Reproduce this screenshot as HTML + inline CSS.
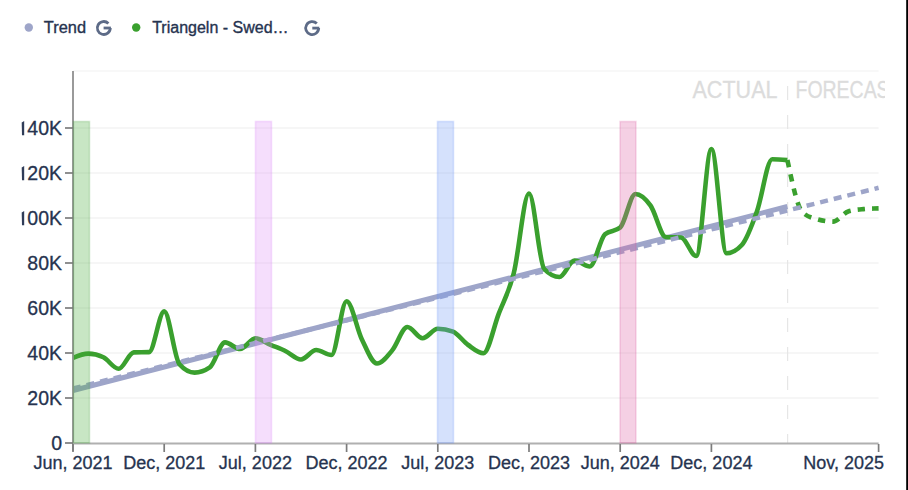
<!DOCTYPE html>
<html><head><meta charset="utf-8"><style>
html,body{margin:0;padding:0;background:#fff;width:908px;height:490px;overflow:hidden}
svg{display:block;font-family:"Liberation Sans",sans-serif}
</style></head><body>
<svg width="908" height="490" viewBox="0 0 908 490">
<rect x="0" y="0" width="908" height="490" fill="#fff"/>
<!-- legend -->
<circle cx="28.8" cy="27.5" r="4.2" fill="#9ea5c9"/>
<text x="43.8" y="33" font-size="16.4" fill="#26334f" stroke="#26334f" stroke-width="0.35">Trend</text>
<circle cx="136.2" cy="27.5" r="4.2" fill="#3aa02e"/>
<text x="152.2" y="33" font-size="16" fill="#26334f" stroke="#26334f" stroke-width="0.35">Triangeln - Swed…</text>
<g fill="none" stroke="#5d6b87" stroke-width="2.8">
<path d="M108.4,23.4 A6.5,6.5 0 1 0 110.3,28"/>
<path d="M312.3,28.1 H319.3"/>
<path d="M103.6,28 H110.9"/>
<path d="M316.8,23.5 A6.5,6.5 0 1 0 318.7,28.1"/>
</g>
<!-- plot area -->
<line x1="73" y1="71" x2="878.6" y2="71" stroke="#f6f6f6" stroke-width="1.4"/>
<g stroke="#f3f3f3" stroke-width="1.4"><line x1="73" y1="398.0" x2="878.6" y2="398.0"/><line x1="73" y1="353.0" x2="878.6" y2="353.0"/><line x1="73" y1="308.0" x2="878.6" y2="308.0"/><line x1="73" y1="263.0" x2="878.6" y2="263.0"/><line x1="73" y1="218.0" x2="878.6" y2="218.0"/><line x1="73" y1="173.0" x2="878.6" y2="173.0"/><line x1="73" y1="128.0" x2="878.6" y2="128.0"/></g>
<!-- actual/forecast -->
<text x="692.5" y="97.8" font-size="23" fill="#dcdcdc" stroke="#dcdcdc" stroke-width="0.3" textLength="85" lengthAdjust="spacingAndGlyphs">ACTUAL</text>
<line x1="787.6" y1="86" x2="787.6" y2="443" stroke="#e6e6e6" stroke-width="1.2" stroke-dasharray="14,15"/>
<svg x="0" y="0" width="885" height="490" overflow="hidden"><text x="795.5" y="97.8" font-size="23" fill="#dcdcdc" stroke="#dcdcdc" stroke-width="0.3" textLength="106" lengthAdjust="spacingAndGlyphs">FORECAST</text></svg>
<!-- trend -->
<line x1="73" y1="390.5" x2="787.4" y2="206.5" stroke="#9ea5c9" stroke-width="5"/>
<!-- green -->
<path d="M73.00,357.80C78.07,355.70 83.13,353.60 88.20,353.60C93.27,353.60 98.33,354.83 103.40,357.30C108.47,359.77 113.53,368.80 118.60,368.80C123.67,368.80 128.73,352.60 133.80,352.40C138.87,352.20 143.93,352.30 149.00,352.10C154.07,351.90 159.13,311.40 164.20,311.40C169.27,311.40 174.33,358.60 179.40,364.20C184.47,369.80 189.53,372.60 194.60,372.60C199.67,372.60 204.73,370.87 209.80,367.40C214.87,363.93 219.93,342.40 225.00,342.40C230.07,342.40 235.13,349.00 240.20,349.00C245.27,349.00 250.33,338.30 255.40,338.30C260.47,338.30 265.53,342.65 270.60,344.80C275.67,346.95 280.73,348.75 285.80,351.20C290.87,353.65 295.93,359.50 301.00,359.50C306.07,359.50 311.13,350.00 316.20,350.00C321.27,350.00 326.33,355.00 331.40,355.00C336.47,355.00 341.53,301.20 346.60,301.20C351.67,301.20 356.73,328.82 361.80,339.20C366.87,349.58 371.93,363.50 377.00,363.50C382.07,363.50 387.13,356.48 392.20,350.40C397.27,344.32 402.33,327.00 407.40,327.00C412.47,327.00 417.53,338.20 422.60,338.20C427.67,338.20 432.73,328.70 437.80,328.70C442.87,328.70 447.93,329.70 453.00,331.70C458.07,333.70 463.13,341.42 468.20,345.00C473.27,348.58 478.33,353.20 483.40,353.20C488.47,353.20 493.53,327.47 498.60,314.10C503.67,300.73 508.73,293.10 513.80,273.00C518.87,252.90 523.93,193.50 529.00,193.50C534.07,193.50 539.13,263.67 544.20,269.00C549.27,274.33 554.33,277.00 559.40,277.00C564.47,277.00 569.53,260.50 574.60,260.50C579.67,260.50 584.73,266.50 589.80,266.50C594.87,266.50 599.93,238.60 605.00,234.20C610.07,229.80 615.13,232.00 620.20,227.60C625.27,223.20 630.33,194.00 635.40,194.00C640.47,194.00 645.53,198.53 650.60,205.70C655.67,212.87 660.73,236.67 665.80,237.00C670.87,237.33 675.93,237.17 681.00,237.50C686.07,237.83 691.13,256.00 696.20,256.00C701.27,256.00 706.33,149.00 711.40,149.00C716.47,149.00 721.53,253.30 726.60,253.30C731.67,253.30 736.73,250.53 741.80,245.00C746.87,239.47 751.93,225.50 757.00,211.20C762.07,196.90 767.13,159.20 772.20,159.20C777.27,159.20 782.33,159.65 787.40,160.10" fill="none" stroke="#3aa02e" stroke-width="4.6" stroke-linejoin="round" stroke-linecap="butt"/>
<path d="M787.40,160.10C792.47,183.92 797.53,207.73 802.60,212.40C807.67,217.07 812.73,217.93 817.80,219.40C822.87,220.87 827.93,221.60 833.00,221.60C838.07,221.60 843.13,213.10 848.20,211.50C853.27,209.90 858.33,209.57 863.40,209.10C868.47,208.63 873.53,208.52 878.60,208.40" fill="none" stroke="#3aa02e" stroke-width="4.6" stroke-dasharray="7.3,7.1"/>
<line x1="73" y1="388.5" x2="878.6" y2="187.8" stroke="#9ea5c9" stroke-width="4.5" stroke-dasharray="8,6"/>
<!-- axes -->
<line x1="73" y1="71" x2="73" y2="451" stroke="#9a9a9a" stroke-width="2"/>
<line x1="73" y1="443.4" x2="878.6" y2="443.4" stroke="#b0b0b0" stroke-width="2"/>
<g stroke="#7c7c7c" stroke-width="1.7"><line x1="65" y1="443.0" x2="73" y2="443.0"/><line x1="65" y1="398.0" x2="73" y2="398.0"/><line x1="65" y1="353.0" x2="73" y2="353.0"/><line x1="65" y1="308.0" x2="73" y2="308.0"/><line x1="65" y1="263.0" x2="73" y2="263.0"/><line x1="65" y1="218.0" x2="73" y2="218.0"/><line x1="65" y1="173.0" x2="73" y2="173.0"/><line x1="65" y1="128.0" x2="73" y2="128.0"/><line x1="73.0" y1="444" x2="73.0" y2="452"/><line x1="164.2" y1="444" x2="164.2" y2="452"/><line x1="255.4" y1="444" x2="255.4" y2="452"/><line x1="346.6" y1="444" x2="346.6" y2="452"/><line x1="437.8" y1="444" x2="437.8" y2="452"/><line x1="529.0" y1="444" x2="529.0" y2="452"/><line x1="620.2" y1="444" x2="620.2" y2="452"/><line x1="711.4" y1="444" x2="711.4" y2="452"/><line x1="878.6" y1="444" x2="878.6" y2="452"/></g>
<!-- bars -->
<g stroke-width="1.6">
<rect x="73.5" y="121.5" width="16" height="321.5" fill="rgba(72,172,58,0.3)" stroke="rgba(60,150,50,0.2)"/>
<rect x="255.5" y="121.5" width="16" height="321.5" fill="rgba(222,145,245,0.3)" stroke="rgba(215,120,245,0.22)"/>
<rect x="437.5" y="121.5" width="16" height="321.5" fill="rgba(115,155,245,0.3)" stroke="rgba(100,140,245,0.22)"/>
<rect x="620" y="121.5" width="16" height="321.5" fill="rgba(222,98,165,0.3)" stroke="rgba(215,80,155,0.2)"/>
</g>
<g font-size="19.5" fill="#26334f" stroke="#26334f" stroke-width="0.3" text-anchor="end"><text x="62" y="450.3">0</text><text x="62" y="405.3">20K</text><text x="62" y="360.3">40K</text><text x="62" y="315.3">60K</text><text x="62" y="270.3">80K</text><path d="M21.7,212.6 L24.2,211.0 L24.2,225.3 L22.0,225.3 Z" fill="#2f3c58" stroke="none"/><text x="62" y="225.3">00K</text><path d="M21.7,167.6 L24.2,166.0 L24.2,180.3 L22.0,180.3 Z" fill="#2f3c58" stroke="none"/><text x="62" y="180.3">20K</text><path d="M21.7,122.6 L24.2,121.0 L24.2,135.3 L22.0,135.3 Z" fill="#2f3c58" stroke="none"/><text x="62" y="135.3">40K</text></g>
<g font-size="18" fill="#26334f" stroke="#26334f" stroke-width="0.3" text-anchor="middle"><text x="73.0" y="469">Jun, 2021</text><text x="164.2" y="469">Dec, 2021</text><text x="255.4" y="469">Jul, 2022</text><text x="346.6" y="469">Dec, 2022</text><text x="437.8" y="469">Jul, 2023</text><text x="529.0" y="469">Dec, 2023</text><text x="620.2" y="469">Jun, 2024</text><text x="711.4" y="469">Dec, 2024</text></g>
<text x="884" y="469" font-size="18" fill="#26334f" stroke="#26334f" stroke-width="0.3" text-anchor="end">Nov, 2025</text>
<rect x="906.2" y="0" width="1.8" height="490" fill="#000"/>
</svg>
</body></html>
